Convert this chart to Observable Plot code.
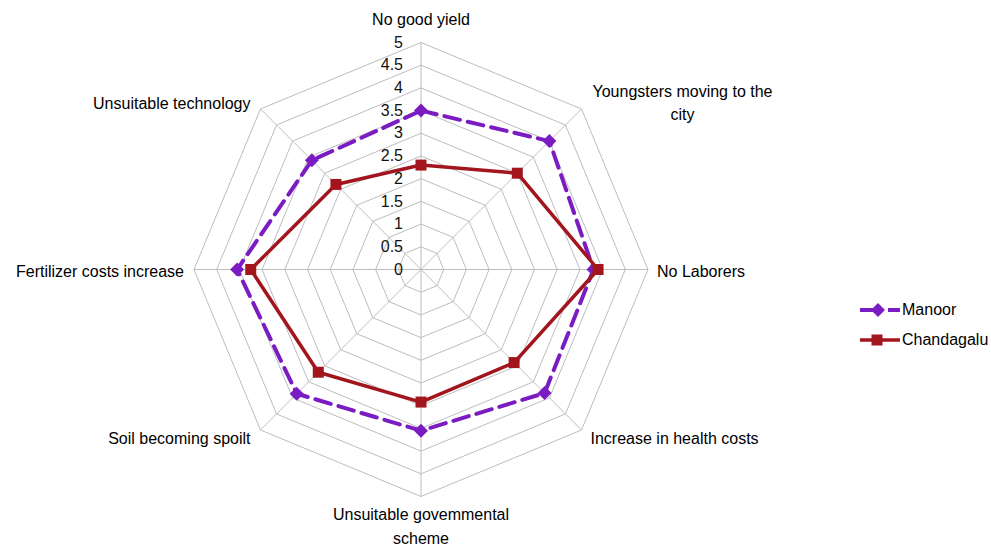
<!DOCTYPE html>
<html><head><meta charset="utf-8">
<script src="https://cdn.jsdelivr.net/npm/d3@7"></script>
<script src="https://cdn.jsdelivr.net/npm/@observablehq/plot@0.6"></script>
<style>
body{margin:0;background:#fff;font-family:"Liberation Sans",Arial,sans-serif}
#wrap{position:relative;width:991px;height:547px;overflow:hidden}
#legend{position:absolute;left:856px;top:295px;font-size:16px;color:#000}
#legend .row{display:flex;align-items:center;height:30px}
#legend svg{display:block}
</style>
</head><body><div id="wrap"><div id="legend"></div></div>
<script>
const categories = ["No good yield","Youngsters moving to the\ncity","No Laborers","Increase in health costs","Unsuitable govemmental\nscheme","Soil becoming spoilt","Fertilizer costs increase","Unsuitable technology"];
const seriesNames = ["Manoor","Chandagalu"];
const manoor = [3.5, 4.0, 3.8, 3.85, 3.55, 3.87, 4.05, 3.4];
const chandagalu = [2.3, 3.0, 3.9, 2.9, 2.92, 3.2, 3.75, 2.65];
const tickValues = [0,0.5,1,1.5,2,2.5,3,3.5,4,4.5,5];
const tickLabels = ["0","0.5","1","1.5","2","2.5","3","3.5","4","4.5","5"];

const N = categories.length;
const ang = i => i*2*Math.PI/N;
const px = (r,i) => r*Math.sin(ang(i));
const py = (r,i) => r*Math.cos(ang(i));
const rMax = tickValues[tickValues.length-1];
const FONT = '16px "Liberation Sans", Arial, sans-serif';
const ctx = document.createElement("canvas").getContext("2d");
ctx.font = FONT;
const textWidth = t => Math.max(...t.split("\n").map(l=>ctx.measureText(l).width));

// rings
const rings = [];
tickValues.filter(v=>v>0).forEach(v=>{
  for(let i=0;i<=N;i++) rings.push({ring:v, x:px(v,i%N), y:py(v,i%N)});
});
const spokes = categories.map((c,i)=>({x1:0,y1:0,x2:px(rMax,i),y2:py(rMax,i)}));

function poly(vals, name){
  const pts = vals.map((v,i)=>({series:name, cat:categories[i], v, x:px(v,i), y:py(v,i)}));
  return {pts, closed:[...pts, pts[0]]};
}
const M = poly(manoor, seriesNames[0]);
const C = poly(chandagalu, seriesNames[1]);

const purple = "#7a1cc2", red = "#a3151c";

const labelMarks = categories.map((c,i)=>{
  const s = Math.sin(ang(i)), co = Math.cos(ang(i));
  let textAnchor = s>0.1?"start":(s<-0.1?"end":"middle");
  const lineAnchor = co>0.9?"bottom":(co<-0.9?"top":"middle");
  let dx = s>0.1?9:(s<-0.1?-10:0);
  if (textAnchor!=="middle" && c.includes("\n")) {
    const w = textWidth(c);
    dx = dx + (s>0 ? w/2+2 : -w/2-2);
    textAnchor = "middle";
  }
  let dy = 0;
  if (co>0.9) dy=-18; else if (co<-0.9) dy=7; else if (Math.abs(co)>0.1) dy = co>0 ? -8 : 6;
  return Plot.text([c], {x:()=>px(rMax,i), y:()=>py(rMax,i), text:d=>d, textAnchor, lineAnchor, dx, dy, fontSize:16, lineHeight:1.47, fill:"#000"});
});

const cx = 420.5, cy = 269, unit = 45.4, W = 991, H = 547;
const chart = Plot.plot({
  width: W, height: H,
  margin: 0,
  x: {domain:[-cx/unit, (W-cx)/unit], axis:null},
  y: {domain:[-(H-cy)/unit, cy/unit], axis:null},
  style: {fontFamily:'"Liberation Sans", Arial, sans-serif', background:"#fff"},
  marks: [
    Plot.line(rings, {x:"x", y:"y", z:"ring", stroke:"#bdbdbd", strokeWidth:1}),
    Plot.link(spokes, {x1:"x1", y1:"y1", x2:"x2", y2:"y2", stroke:"#bdbdbd", strokeWidth:1}),
    Plot.text(tickValues, {x:d=>px(d,0), y:d=>py(d,0), text:(d,i)=>tickLabels[i], textAnchor:"end", dx:-18, fontSize:16, fill:"#111"}),
    ...labelMarks,
    Plot.line(M.closed, {x:"x", y:"y", stroke:purple, strokeWidth:4, strokeDasharray:"16,8"}),
    Plot.dot(M.pts, {x:"x", y:"y", symbol:"diamond2", r:6.3, fill:purple, stroke:"none"}),
    Plot.line(C.closed, {x:"x", y:"y", stroke:red, strokeWidth:3.5}),
    Plot.dot(C.pts, {x:"x", y:"y", symbol:"square", r:6.2, fill:red, stroke:"none"})
  ]
});
document.getElementById("wrap").prepend(chart);
chart.style.position="absolute"; chart.style.left="0"; chart.style.top="0";

const legend = document.getElementById("legend");
legend.innerHTML = `
<div class="row"><svg width="46" height="20"><line x1="4" y1="10" x2="44" y2="10" stroke="${purple}" stroke-width="4" stroke-dasharray="18,10"/><path d="M22,3 L29,10 L22,17 L15,10Z" fill="${purple}"/></svg><span>${seriesNames[0]}</span></div>
<div class="row"><svg width="46" height="20"><line x1="4" y1="10" x2="44" y2="10" stroke="${red}" stroke-width="3.5"/><rect x="15.5" y="4.5" width="11" height="11" fill="${red}"/></svg><span>${seriesNames[1]}</span></div>`;
</script>
</body></html>
